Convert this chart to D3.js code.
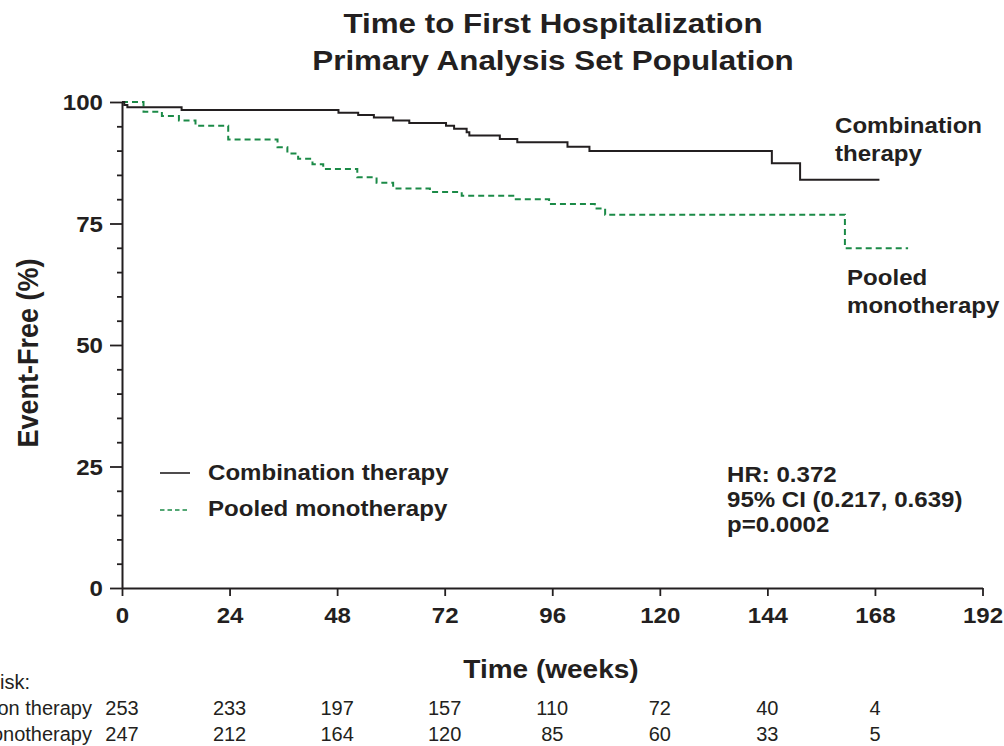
<!DOCTYPE html>
<html>
<head>
<meta charset="utf-8">
<script src="https://cdn.jsdelivr.net/npm/d3@7"></script>
<style>
  html, body { margin: 0; padding: 0; background: #ffffff; }
  svg { display: block; }
  text { font-family: "Liberation Sans", Arial, Helvetica, sans-serif; fill: #231f20; }
</style>
</head>
<body>
<svg id="chart" width="1004" height="746"></svg>
<script>
// ---- data ----
const titleLines = ["Time to First Hospitalization", "Primary Analysis Set Population"];
const weekTicks = [0, 24, 48, 72, 96, 120, 144, 168, 192];
const pctTicks = [0, 25, 50, 75, 100];
const seriesNames = ["Combination therapy", "Pooled monotherapy"];

// Kaplan-Meier steps: time (weeks) at which the estimate changes, and the new estimate (%)
const comboTimes = [0, 0.5, 1.2, 13.3, 48.3, 52.7, 56.2, 60.5, 64.1, 72.3, 74.1, 76.9, 77.5, 84.3, 88.2, 99.4, 104.3, 145.0, 151.3];
const comboSurv  = [100, 99.4, 98.9, 98.35, 97.8, 97.3, 96.8, 96.2, 95.7, 95.1, 94.5, 93.8, 93.1, 92.4, 91.7, 90.8, 89.9, 87.4, 84.0];
const comboLastWeek = 169.0;

const monoTimes = [0, 4.8, 8.9, 12.7, 16.4, 23.7, 34.7, 36.9, 39.3, 42.5, 44.9, 52.5, 56.8, 60.5, 68.7, 75.8, 87.3, 95.3, 105.5, 107.8, 161.3];
const monoSurv  = [100, 98.0, 97.1, 96.2, 95.1, 92.3, 90.7, 89.4, 88.3, 87.2, 86.2, 84.5, 83.4, 82.2, 81.5, 80.7, 80.0, 79.0, 78.1, 76.8, 69.9];
const monoLastWeek = 175.4;

const statsLines = ["HR: 0.372", "95% CI (0.217, 0.639)", "p=0.0002"];

const atRiskWeeks = [0, 24, 48, 72, 96, 120, 144, 168];
const comboAtRisk = [253, 233, 197, 157, 110, 72, 40, 4];
const monoAtRisk  = [247, 212, 164, 120, 85, 60, 33, 5];

// ---- drawing ----
const INK = "#231f20";
const GREEN = "#1b8a47";
const SX = 1.12;             // horizontal widening of the bold lettering

const svg = d3.select("#chart");
const x = d3.scaleLinear().domain([0, 192]).range([122, 982.5]);
const y = d3.scaleLinear().domain([0, 100]).range([588, 102]);

// text helper: positioned by transform so the widening does not shift the anchor
function label(parent, px, py, str, size, weight, anchor) {
  return parent.append("text")
    .attr("transform", `translate(${px},${py}) scale(${SX},1)`)
    .attr("text-anchor", anchor || "start")
    .style("font-size", size + "px")
    .style("font-weight", weight || "bold")
    .text(str);
}

// title
label(svg, 553, 33, titleLines[0], 28, "bold", "middle");
label(svg, 553, 70, titleLines[1], 28, "bold", "middle");

// y axis: major ticks with labels
const yAxis = svg.append("g").attr("transform", `translate(${x(0)},0)`)
  .call(d3.axisLeft(y).tickValues(pctTicks).tickSize(12).tickSizeOuter(0));
// y axis: minor ticks every 5
svg.append("g").attr("transform", `translate(${x(0)},0)`)
  .call(d3.axisLeft(y).tickValues(d3.range(0, 101, 5).filter(v => v % 25 !== 0))
    .tickSize(5).tickSizeOuter(0).tickFormat(""))
  .call(g => g.select(".domain").remove());

// x axis
const xAxis = svg.append("g").attr("transform", `translate(0,${y(0)})`)
  .call(d3.axisBottom(x).tickValues(weekTicks).tickSize(8).tickSizeOuter(0));

[yAxis, xAxis].forEach(g => {
  g.selectAll(".domain").attr("stroke", INK).attr("stroke-width", 2);
});
svg.selectAll(".tick line").attr("stroke", INK).attr("stroke-width", 1.8);

yAxis.selectAll(".tick text")
  .attr("x", null).attr("dy", null)
  .attr("transform", `translate(-19,7.5) scale(${SX},1)`)
  .attr("fill", INK)
  .style("font-size", "21.5px").style("font-weight", "bold")
  .style("font-family", '"Liberation Sans", Arial, sans-serif');

xAxis.selectAll(".tick text")
  .attr("y", null).attr("dy", null)
  .attr("transform", `translate(0,35) scale(${SX},1)`)
  .attr("fill", INK)
  .style("font-size", "21.5px").style("font-weight", "bold")
  .style("font-family", '"Liberation Sans", Arial, sans-serif');

// axis titles
svg.append("text")
  .attr("transform", `translate(38,353) scale(${SX},1) rotate(-90)`)
  .attr("text-anchor", "middle")
  .style("font-size", "27px").style("font-weight", "bold")
  .text("Event-Free (%)");
label(svg, 551, 678, "Time (weeks)", 25, "bold", "middle");

// survival curves
function steps(times, surv, lastWeek) {
  const pts = times.map((t, i) => [t, surv[i]]);
  pts.push([lastWeek, surv[surv.length - 1]]);
  return pts;
}
const stepLine = d3.line()
  .x(d => x(d[0]))
  .y(d => y(d[1]))
  .curve(d3.curveStepAfter);

svg.append("path")
  .datum(steps(monoTimes, monoSurv, monoLastWeek))
  .attr("d", stepLine)
  .attr("fill", "none")
  .attr("stroke", GREEN)
  .attr("stroke-width", 2)
  .attr("stroke-dasharray", "6,4");

svg.append("path")
  .datum(steps(comboTimes, comboSurv, comboLastWeek))
  .attr("d", stepLine)
  .attr("fill", "none")
  .attr("stroke", INK)
  .attr("stroke-width", 2);

// end-of-curve labels
label(svg, 835, 133, "Combination", 21.5, "bold");
label(svg, 835, 161, "therapy", 21.5, "bold");
label(svg, 847, 285, "Pooled", 21.5, "bold");
label(svg, 847, 313, "monotherapy", 21.5, "bold");

// legend
const legend = svg.append("g");
legend.append("line").attr("x1", 160).attr("x2", 190).attr("y1", 473).attr("y2", 473)
  .attr("stroke", INK).attr("stroke-width", 1.6);
legend.append("line").attr("x1", 160).attr("x2", 190).attr("y1", 510).attr("y2", 510)
  .attr("stroke", GREEN).attr("stroke-width", 1.6).attr("stroke-dasharray", "4.5,3");
label(legend, 208, 480, seriesNames[0], 21.5, "bold");
label(legend, 208, 516, seriesNames[1], 21.5, "bold");

// hazard ratio block
statsLines.forEach((s, i) => label(svg, 727, 482 + i * 25, s, 21.5, "bold"));

// number at risk table
const table = svg.append("g").style("font-size", "20px").style("font-weight", "normal");
const rowY = [715, 741];
const rowLabels = seriesNames.map((name, i) =>
  table.append("text").attr("x", 92).attr("y", rowY[i]).attr("text-anchor", "end").text(name));
const labelStart = d3.min(rowLabels, t => t.node().getBBox().x);
table.append("text").attr("x", labelStart - 13).attr("y", 689).text("Number at risk:");
[comboAtRisk, monoAtRisk].forEach((row, i) => {
  table.selectAll(null).data(row).enter().append("text")
    .attr("x", (d, j) => x(atRiskWeeks[j]))
    .attr("y", rowY[i])
    .attr("text-anchor", "middle")
    .text(d => d);
});
</script>
</body>
</html>
